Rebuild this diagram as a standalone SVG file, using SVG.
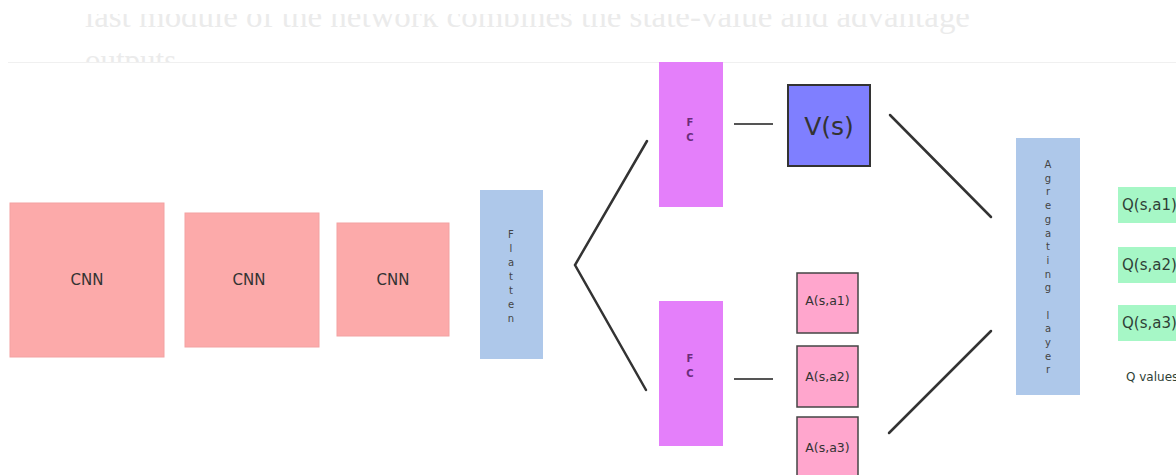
<svg xmlns="http://www.w3.org/2000/svg" width="1176" height="475" viewBox="0 0 1176 475">
  <style>
    .lbl { font-family: "DejaVu Sans", "Liberation Sans", sans-serif; fill: #333; text-anchor: middle; }
    .qt { font-family: "DejaVu Sans", "Liberation Sans", sans-serif; fill: #2f3f36; }
    .cnn { fill: #fcaaaa; stroke: #f3a2a2; stroke-width: 1; }
    .blue { fill: #aec8ea; }
    .fc { fill: #e47ffa; }
    .adv { fill: #ffa6cd; stroke: #444; stroke-width: 1.5; }
    .q { fill: #a6f7c6; }
    .vert { font-family: "DejaVu Sans", "Liberation Sans", sans-serif; font-size: 10px; fill: #444; text-anchor: middle; }
    .fcl { font-family: "DejaVu Sans", "Liberation Sans", sans-serif; font-size: 10px; font-weight: bold; fill: #6a2c7a; text-anchor: middle; }
    .wire { fill: none; stroke: #333; stroke-width: 2.5; stroke-linecap: round; }
    .stub { fill: none; stroke: #555; stroke-width: 2; }
    .page { font-family: "Liberation Serif", serif; font-size: 31px; fill: #ebebeb; }
  </style>
  <defs>
    <clipPath id="pageClip">
      <rect x="0" y="14" width="1176" height="48"/>
    </clipPath>
  </defs>

  <rect width="1176" height="475" fill="#ffffff"/>

  <!-- surrounding page text, partly hidden behind the figure -->
  <g clip-path="url(#pageClip)">
    <text class="page" x="85" y="27" textLength="885" lengthAdjust="spacingAndGlyphs">last module of the network combines the state-value and advantage</text>
    <text class="page" x="85" y="71">outputs</text>
  </g>
  <line x1="8" y1="62.5" x2="1176" y2="62.5" stroke="#f0f0f0" stroke-width="1"/>

  <!-- connectors -->
  <g id="connectors">
    <polyline class="wire" points="647,141 575,265 646,390"/>
    <line class="stub" x1="734" y1="124" x2="773" y2="124"/>
    <line class="stub" x1="734" y1="379" x2="773" y2="379"/>
    <line class="wire" x1="890" y1="115" x2="991" y2="217"/>
    <line class="wire" x1="889" y1="433" x2="991" y2="331"/>
  </g>

  <!-- convolutional stack -->
  <g id="cnn1">
    <rect class="cnn" x="10" y="203" width="154" height="154"/>
    <text class="lbl" x="87" y="285" font-size="15">CNN</text>
  </g>
  <g id="cnn2">
    <rect class="cnn" x="185" y="213" width="134" height="134"/>
    <text class="lbl" x="249" y="285" font-size="15">CNN</text>
  </g>
  <g id="cnn3">
    <rect class="cnn" x="337" y="223" width="112" height="113"/>
    <text class="lbl" x="393" y="285" font-size="15">CNN</text>
  </g>

  <g id="flatten">
    <rect class="blue" x="480" y="190" width="63" height="169"/>
    <text class="vert" x="511" y="238">
      <tspan x="511" dy="0">F</tspan><tspan x="511" dy="14">l</tspan><tspan x="511" dy="14">a</tspan><tspan x="511" dy="14">t</tspan><tspan x="511" dy="14">t</tspan><tspan x="511" dy="14">e</tspan><tspan x="511" dy="14">n</tspan>
    </text>
  </g>

  <!-- value stream -->
  <g id="fc-value">
    <rect class="fc" x="659" y="62" width="64" height="145"/>
    <text class="fcl"><tspan x="690" y="126">F</tspan><tspan x="690" y="141">C</tspan></text>
  </g>
  <g id="value">
    <rect x="788" y="85" width="82" height="81" fill="#7f7fff" stroke="#333" stroke-width="2"/>
    <text class="lbl" x="829" y="135" font-size="25" fill="#222">V(s)</text>
  </g>

  <!-- advantage stream -->
  <g id="fc-advantage">
    <rect class="fc" x="659" y="301" width="64" height="145"/>
    <text class="fcl"><tspan x="690" y="362">F</tspan><tspan x="690" y="377">C</tspan></text>
  </g>
  <g id="adv1">
    <rect class="adv" x="797" y="273" width="61" height="60"/>
    <text class="lbl" x="827.5" y="305" font-size="12.5">A(s,a1)</text>
  </g>
  <g id="adv2">
    <rect class="adv" x="797" y="346" width="61" height="61"/>
    <text class="lbl" x="827.5" y="381" font-size="12.5">A(s,a2)</text>
  </g>
  <g id="adv3">
    <rect class="adv" x="797" y="417" width="61" height="61"/>
    <text class="lbl" x="827.5" y="452" font-size="12.5">A(s,a3)</text>
  </g>

  <g id="aggregating">
    <rect class="blue" x="1016" y="138" width="64" height="257"/>
    <text class="vert" x="1048" y="168">
      <tspan x="1048" dy="0">A</tspan><tspan x="1048" dy="13.7">g</tspan><tspan x="1048" dy="13.7">r</tspan><tspan x="1048" dy="13.7">e</tspan><tspan x="1048" dy="13.7">g</tspan><tspan x="1048" dy="13.7">a</tspan><tspan x="1048" dy="13.7">t</tspan><tspan x="1048" dy="13.7">i</tspan><tspan x="1048" dy="13.7">n</tspan><tspan x="1048" dy="13.7">g</tspan><tspan x="1048" dy="27.4">l</tspan><tspan x="1048" dy="13.7">a</tspan><tspan x="1048" dy="13.7">y</tspan><tspan x="1048" dy="13.7">e</tspan><tspan x="1048" dy="13.7">r</tspan>
    </text>
  </g>

  <!-- outputs -->
  <g id="q1">
    <rect class="q" x="1118" y="187" width="72" height="36"/>
    <text class="qt" x="1122" y="210" font-size="15">Q(s,a1)</text>
  </g>
  <g id="q2">
    <rect class="q" x="1118" y="247" width="72" height="36"/>
    <text class="qt" x="1122" y="270" font-size="15">Q(s,a2)</text>
  </g>
  <g id="q3">
    <rect class="q" x="1118" y="305" width="72" height="36"/>
    <text class="qt" x="1122" y="328" font-size="15">Q(s,a3)</text>
  </g>
  <g id="q-values">
    <text class="qt" x="1126" y="381" font-size="12" fill="#333">Q values</text>
  </g>
</svg>
